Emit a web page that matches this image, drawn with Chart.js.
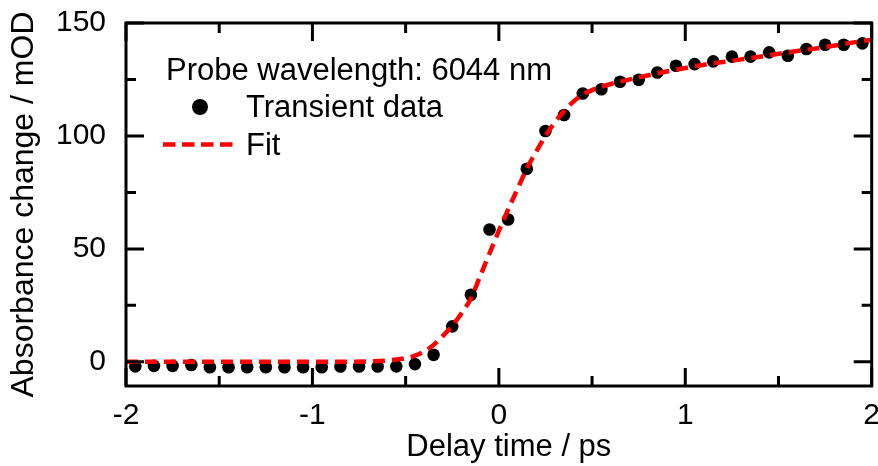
<!DOCTYPE html>
<html>
<head>
<meta charset="utf-8">
<script src="https://cdn.jsdelivr.net/npm/chart.js@4/dist/chart.umd.min.js"></script>
<style>
  html, body { margin: 0; padding: 0; background: #ffffff; }
  #wrap { width: 878px; height: 466px; }
</style>
</head>
<body>
<div id="wrap"><canvas id="c" width="878" height="466"></canvas></div>
<script>
// Delay times (ps) of the measured points
const delayTimes = [
  -1.95, -1.85, -1.75, -1.65, -1.55, -1.45, -1.35, -1.25, -1.15, -1.05,
  -0.95, -0.85, -0.75, -0.65, -0.55, -0.45, -0.35, -0.25, -0.15, -0.05,
   0.05,  0.15,  0.25,  0.35,  0.45,  0.55,  0.65,  0.75,  0.85,  0.95,
   1.05,  1.15,  1.25,  1.35,  1.45,  1.55,  1.65,  1.75,  1.85,  1.95
];
// Absorbance change (mOD) of the transient data
const transientData = [
  -2.0, -1.8, -1.8, -1.4, -2.4, -2.4, -2.4, -2.4, -2.4, -2.4,
  -2.4, -2.1, -2.1, -2.1, -2.0, -1.0,  3.1, 15.7, 29.7, 58.6,
  63.0, 85.5, 102.2, 109.3, 118.8, 120.7, 124.0, 124.9, 128.1, 131.1,
  131.8, 133.0, 135.1, 135.1, 137.0, 135.5, 138.5, 140.4, 140.4, 141.0
];
// Fitted curve, sampled along the delay axis
const fitTimes = [
  -2.0, -1.5, -1.0, -0.7, -0.6, -0.5, -0.45, -0.4, -0.35, -0.3,
  -0.25, -0.2, -0.15, -0.1, -0.05, 0.0, 0.05, 0.1, 0.15, 0.2,
   0.25, 0.3, 0.35, 0.4, 0.45, 0.5, 0.55, 0.65, 0.75, 0.85,
   0.95, 1.1, 1.25, 1.4, 1.55, 1.75, 1.95, 2.0
];
const fitValues = [
   0.0, 0.0, 0.0, 0.2, 0.6, 1.6, 2.7, 4.6, 7.5, 11.5,
  16.0, 21.5, 28.0, 38.0, 48.0, 58.0, 67.5, 76.5, 85.5, 93.0,
 100.0, 106.0, 111.0, 115.2, 118.3, 120.3, 121.8, 124.0, 125.9, 127.7,
 129.3, 131.5, 133.3, 135.1, 137.0, 139.3, 142.0, 142.5
];

// Axis ticks
const xMajorTicks = [-2, -1, 0, 1, 2];
const xMinorTicks = [-1.5, -0.5, 0.5, 1.5];
const yMajorTicks = [0, 50, 100, 150];
const yMinorTicks = [25, 75, 125];

const xTitle = 'Delay time / ps';
const yTitle = 'Absorbance change / mOD';
const legendTitle = 'Probe wavelength: 6044 nm';
const dataLabel = 'Transient data';
const fitLabel = 'Fit';

const FONT = "'Liberation Sans', Arial, sans-serif";
const TICK_SIZE = 30;
const TEXT_SIZE = 31;

const toXY = (xs, ys) => xs.map((x, i) => ({ x: x, y: ys[i] }));

// Closed frame with inward-pointing tick marks on all four sides
const framePlugin = {
  id: 'frame',
  afterDatasetsDraw(chart) {
    const { ctx, chartArea: a, scales } = chart;
    const xs = scales.x, ys = scales.y;
    ctx.save();
    ctx.strokeStyle = '#000';
    ctx.lineWidth = 3;
    ctx.lineCap = 'butt';
    ctx.strokeRect(a.left, a.top, a.right - a.left, a.bottom - a.top);
    const major = 18, minor = 10;
    ctx.beginPath();
    const xTick = (v, len) => {
      const px = xs.getPixelForValue(v);
      ctx.moveTo(px, a.bottom); ctx.lineTo(px, a.bottom - len);
      ctx.moveTo(px, a.top); ctx.lineTo(px, a.top + len);
    };
    const yTick = (v, len) => {
      const py = ys.getPixelForValue(v);
      ctx.moveTo(a.left, py); ctx.lineTo(a.left + len, py);
      ctx.moveTo(a.right, py); ctx.lineTo(a.right - len, py);
    };
    xMajorTicks.forEach(v => xTick(v, major));
    xMinorTicks.forEach(v => xTick(v, minor));
    yMajorTicks.forEach(v => yTick(v, major));
    yMinorTicks.forEach(v => yTick(v, minor));
    ctx.stroke();
    ctx.restore();
  }
};

// Delay-axis caption, set a little right of the plot centre
const xTitlePlugin = {
  id: 'xCaption',
  afterDraw(chart) {
    const { ctx, chartArea: a } = chart;
    ctx.save();
    ctx.fillStyle = '#000';
    ctx.font = TEXT_SIZE + 'px ' + FONT;
    ctx.textAlign = 'center';
    ctx.textBaseline = 'middle';
    ctx.fillText(xTitle, (a.left + a.right) / 2 + 10, 447.5);
    ctx.restore();
  }
};

// Legend block in the upper left of the plot
const legendPlugin = {
  id: 'insetLegend',
  afterDraw(chart) {
    const { ctx } = chart;
    ctx.save();
    ctx.fillStyle = '#000';
    ctx.font = TEXT_SIZE + 'px ' + FONT;
    ctx.textAlign = 'left';
    ctx.textBaseline = 'middle';
    ctx.fillText(legendTitle, 166, 71);
    ctx.beginPath();
    ctx.arc(200, 107, 8, 0, Math.PI * 2);
    ctx.fill();
    ctx.fillText(dataLabel, 246, 108);
    ctx.strokeStyle = '#ff0000';
    ctx.lineWidth = 4.5;
    ctx.setLineDash([12.5, 6.5]);
    ctx.beginPath();
    ctx.moveTo(163, 144.5);
    ctx.lineTo(234, 144.5);
    ctx.stroke();
    ctx.setLineDash([]);
    ctx.fillText(fitLabel, 246, 146);
    ctx.restore();
  }
};

new Chart(document.getElementById('c'), {
  type: 'scatter',
  data: {
    datasets: [
      {
        label: fitLabel,
        data: toXY(fitTimes, fitValues),
        showLine: true,
        borderColor: '#ff0000',
        borderWidth: 4.5,
        borderDash: [12, 7],
        cubicInterpolationMode: 'monotone',
        pointRadius: 0,
        order: 0
      },
      {
        label: dataLabel,
        data: toXY(delayTimes, transientData),
        showLine: false,
        pointRadius: 6.3,
        pointBackgroundColor: '#000',
        pointBorderWidth: 0,
        order: 1
      }
    ]
  },
  options: {
    responsive: false,
    animation: false,
    devicePixelRatio: 1,
    layout: { padding: { top: 23, right: 5, left: 0, bottom: 0 } },
    plugins: { legend: { display: false }, tooltip: { enabled: false } },
    scales: {
      x: {
        type: 'linear',
        min: -2,
        max: 2,
        grid: { display: false, drawTicks: false },
        border: { display: false },
        afterBuildTicks(scale) { scale.ticks = xMajorTicks.map(v => ({ value: v })); },
        afterFit(scale) {
          scale.height = 80;
          scale.paddingLeft = 0;
          scale.paddingRight = 0;
        },
        ticks: {
          autoSkip: false,
          maxRotation: 0,
          padding: 12,
          color: '#000',
          font: { family: FONT, size: TICK_SIZE },
          callback: v => String(v)
        },
        title: { display: false }
      },
      y: {
        type: 'linear',
        min: -10.7,
        max: 150,
        grid: { display: false, drawTicks: false },
        border: { display: false },
        afterBuildTicks(scale) { scale.ticks = yMajorTicks.map(v => ({ value: v })); },
        afterFit(scale) {
          scale.width = 126;
          scale.paddingTop = 0;
          scale.paddingBottom = 0;
        },
        ticks: {
          autoSkip: false,
          padding: 20,
          color: '#000',
          font: { family: FONT, size: TICK_SIZE },
          callback: v => String(v)
        },
        title: {
          display: true,
          text: yTitle,
          color: '#000',
          font: { family: FONT, size: 32 },
          padding: { top: 5, bottom: 0 }
        }
      }
    }
  },
  plugins: [framePlugin, xTitlePlugin, legendPlugin]
});
</script>
</body>
</html>
